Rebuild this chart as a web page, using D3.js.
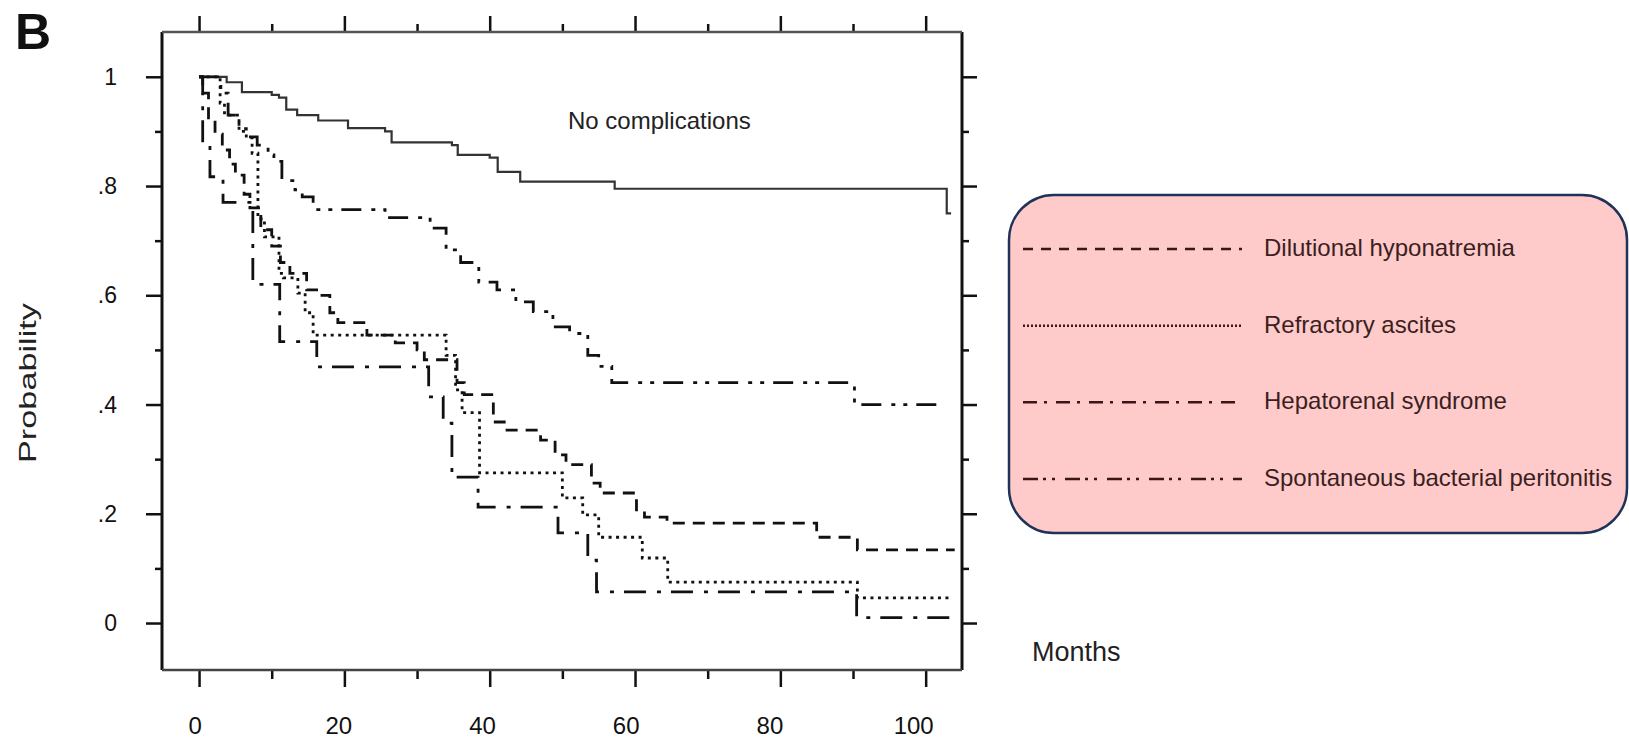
<!DOCTYPE html>
<html>
<head>
<meta charset="utf-8">
<script src="https://cdn.jsdelivr.net/npm/d3@7/dist/d3.min.js"></script>
<style>
    body { margin: 0; background: #fff; }
    svg { display: block; font-family: "Liberation Sans", Arial, sans-serif; }
</style>
</head>
<body>
<script>
/* Kaplan-Meier survival by complication, panel B */

//month ticks on the top and bottom frame
var monthMajor = [0, 20, 40, 60, 80, 100];
var monthMinor = [10, 30, 50, 70, 90];

//probability ticks on the left and right frame
var probMajor = [0, 0.2, 0.4, 0.6, 0.8, 1];
var probMinor = [0.1, 0.3, 0.5, 0.7, 0.9];
var probLabels = ["0", ".2", ".4", ".6", ".8", "1"];

//series names (legend order)
var seriesNames = ["Dilutional hyponatremia", "Refractory ascites", "Hepatorenal syndrome", "Spontaneous bacterial peritonitis"];

//no complications
var ncMonths = [0, 3.8, 5.9, 10, 11, 12, 13.5, 16.4, 20.5, 25.6, 26.5, 34.8, 35.6, 40, 41.1, 44.2, 57.2, 102.9, 103.5];
var ncSurv   = [1, 0.99, 0.972, 0.967, 0.962, 0.94, 0.93, 0.92, 0.906, 0.9, 0.88, 0.875, 0.857, 0.852, 0.826, 0.808, 0.795, 0.75, 0.75];

//dilutional hyponatremia
var dhMonths = [0, 0.5, 1.3, 2.2, 3.2, 4.2, 5, 6.2, 7, 8.5, 10, 11.2, 12.5, 14.8, 16.5, 18, 19.1, 23.1, 27, 30, 31, 35.5, 36.5, 40.5, 42, 47, 49, 50.5, 54, 55.2, 60.2, 61.3, 64.4, 85, 90.6, 104];
var dhSurv   = [1, 0.97, 0.92, 0.895, 0.866, 0.84, 0.82, 0.785, 0.76, 0.72, 0.69, 0.66, 0.64, 0.61, 0.6, 0.568, 0.55, 0.527, 0.513, 0.5, 0.482, 0.44, 0.418, 0.368, 0.353, 0.335, 0.308, 0.29, 0.256, 0.238, 0.207, 0.194, 0.183, 0.157, 0.134, 0.134];

//refractory ascites
var raMonths = [0, 2.9, 3.5, 5.5, 6.5, 7.3, 8.1, 9, 11, 11.6, 13.6, 14.6, 15.7, 34, 35.3, 36.2, 38.6, 50, 52.8, 55, 61, 64.5, 90.6, 103.7];
var raSurv   = [1, 0.952, 0.93, 0.9, 0.888, 0.86, 0.74, 0.707, 0.64, 0.632, 0.604, 0.568, 0.527, 0.49, 0.427, 0.385, 0.275, 0.229, 0.198, 0.157, 0.119, 0.075, 0.046, 0.046];

//hepatorenal syndrome
var hrsMonths = [0, 0.5, 1.5, 3.3, 7.4, 11.1, 16.2, 31.6, 33.6, 34.8, 38.4, 49.4, 53.5, 54.7, 90.5, 103.6];
var hrsSurv   = [1, 0.879, 0.817, 0.77, 0.62, 0.515, 0.469, 0.414, 0.366, 0.267, 0.212, 0.165, 0.115, 0.057, 0.01, 0.01];

//spontaneous bacterial peritonitis
var sbpMonths = [0, 3, 4, 5.5, 6.5, 8, 9.5, 10.3, 11.4, 13.2, 14.2, 15.7, 25.6, 31.8, 34, 36, 38.5, 41, 43.6, 46, 48.7, 51, 53.5, 55, 56.8, 90.2, 102.6];
var sbpSurv   = [1, 0.97, 0.93, 0.905, 0.89, 0.875, 0.857, 0.845, 0.81, 0.793, 0.78, 0.757, 0.742, 0.723, 0.683, 0.66, 0.624, 0.61, 0.588, 0.57, 0.542, 0.53, 0.49, 0.47, 0.44, 0.4, 0.4];

(function(){

    var width = 1629,
        height = 742;

    //plot frame
    var frame = {left: 162, top: 32, width: 800, height: 638};

    var svg = d3.select("body")
        .append("svg")
        .attr("width", width)
        .attr("height", height);

    //scales (frame runs a little past 0 and 100 months)
    var x = d3.scaleLinear()
        .domain([-5.1, 105])
        .range([frame.left, frame.left + frame.width]);

    var y = d3.scaleLinear()
        .domain([-0.086, 1.082])
        .range([frame.top + frame.height, frame.top]);

    //the month labels in the scan sit slightly left of their ticks
    var xLabel = d3.scaleLinear()
        .domain([0, 100])
        .range([x(0) - 4, x(100) - 12]);

    //panel letter
    svg.append("text")
        .attr("x", 15)
        .attr("y", 49)
        .attr("font-size", 50)
        .attr("font-weight", "bold")
        .attr("fill", "#111")
        .text("B");

    //axes: major and minor ticks drawn as separate generators
    function tickAxis(gen, scale, values, size, pos){
        var g = svg.append("g")
            .attr("transform", pos)
            .call(gen(scale).tickValues(values).tickSize(size).tickFormat(""));
        g.select(".domain").remove();
        g.selectAll("line").attr("stroke", "#111").attr("stroke-width", 2.5);
        return g;
    }

    tickAxis(d3.axisBottom, x, monthMajor, 17, "translate(0," + (frame.top + frame.height) + ")");
    tickAxis(d3.axisBottom, x, monthMinor, 9, "translate(0," + (frame.top + frame.height) + ")");
    tickAxis(d3.axisTop, x, monthMajor, 16, "translate(0," + frame.top + ")");
    tickAxis(d3.axisTop, x, monthMinor, 8, "translate(0," + frame.top + ")");
    tickAxis(d3.axisLeft, y, probMajor, 16, "translate(" + frame.left + ",0)");
    tickAxis(d3.axisLeft, y, probMinor, 7, "translate(" + frame.left + ",0)");
    tickAxis(d3.axisRight, y, probMajor, 15, "translate(" + (frame.left + frame.width) + ",0)");
    tickAxis(d3.axisRight, y, probMinor, 7, "translate(" + (frame.left + frame.width) + ",0)");

    //y tick labels
    svg.selectAll(".ylab")
        .data(probMajor)
        .enter()
        .append("text")
        .attr("class", "ylab")
        .attr("x", frame.left - 45)
        .attr("y", function(d){ return y(d) + 8; })
        .attr("text-anchor", "end")
        .attr("font-size", 23)
        .attr("fill", "#111")
        .text(function(d, i){ return probLabels[i]; });

    //x tick labels
    svg.selectAll(".xlab")
        .data(monthMajor)
        .enter()
        .append("text")
        .attr("class", "xlab")
        .attr("x", function(d){ return xLabel(d); })
        .attr("y", 734)
        .attr("text-anchor", "middle")
        .attr("font-size", 24)
        .attr("fill", "#111")
        .text(function(d){ return d; });

    //frame border: solid sides, lighter scanned top and bottom
    var sides = [
        {x1: frame.left, y1: frame.top, x2: frame.left, y2: frame.top + frame.height, c: "#111", w: 3},
        {x1: frame.left + frame.width, y1: frame.top, x2: frame.left + frame.width, y2: frame.top + frame.height, c: "#111", w: 3},
        {x1: frame.left, y1: frame.top, x2: frame.left + frame.width, y2: frame.top, c: "#555", w: 2.5},
        {x1: frame.left, y1: frame.top + frame.height, x2: frame.left + frame.width, y2: frame.top + frame.height, c: "#444", w: 2.5}
    ];

    svg.selectAll(".side")
        .data(sides)
        .enter()
        .append("line")
        .attr("class", "side")
        .attr("x1", function(d){ return d.x1; })
        .attr("y1", function(d){ return d.y1; })
        .attr("x2", function(d){ return d.x2; })
        .attr("y2", function(d){ return d.y2; })
        .attr("stroke", function(d){ return d.c; })
        .attr("stroke-width", function(d){ return d.w; });

    //step curves
    var step = d3.line()
        .x(function(d){ return x(d[0]); })
        .y(function(d){ return y(d[1]); })
        .curve(d3.curveStepAfter);

    var curves = [
        {m: ncMonths,  s: ncSurv,  dash: null,              w: 2.2, c: "#333"},
        {m: dhMonths,  s: dhSurv,  dash: "12,8",            w: 2.8, c: "#111"},
        {m: raMonths,  s: raSurv,  dash: "3,4.5",           w: 2.8, c: "#111"},
        {m: hrsMonths, s: hrsSurv, dash: "22,11,4,10",      w: 2.8, c: "#111"},
        {m: sbpMonths, s: sbpSurv, dash: "20,10,4,8,4,9",   w: 2.8, c: "#111"}
    ];

    svg.selectAll(".km")
        .data(curves)
        .enter()
        .append("path")
        .attr("class", "km")
        .attr("d", function(c){ return step(d3.zip(c.m, c.s)); })
        .attr("fill", "none")
        .attr("stroke", function(c){ return c.c; })
        .attr("stroke-width", function(c){ return c.w; })
        .attr("stroke-dasharray", function(c){ return c.dash; });

    //curve annotation
    svg.append("text")
        .attr("x", 568)
        .attr("y", 129)
        .attr("font-size", 24)
        .attr("fill", "#222")
        .text("No complications");

    //axis titles
    svg.append("text")
        .attr("x", 1032)
        .attr("y", 661)
        .attr("font-size", 27)
        .attr("fill", "#222")
        .text("Months");

    svg.append("text")
        .attr("transform", "translate(36,383) rotate(-90)")
        .attr("text-anchor", "middle")
        .attr("font-size", 24)
        .attr("textLength", 160)
        .attr("lengthAdjust", "spacingAndGlyphs")
        .attr("fill", "#222")
        .text("Probability");

    //legend box
    var legend = svg.append("g")
        .attr("transform", "translate(1009,195)");

    legend.append("rect")
        .attr("width", 618)
        .attr("height", 338)
        .attr("rx", 45)
        .attr("ry", 45)
        .attr("fill", "#ffcaca")
        .attr("stroke", "#1f3358")
        .attr("stroke-width", 2.5);

    var legendDash = ["10,8", "2,2", "14,7,3,9", "15,5,3,6,3,10"];
    var row = d3.scaleLinear().domain([0, 3]).range([52, 282]);

    legend.selectAll(".legline")
        .data(seriesNames)
        .enter()
        .append("line")
        .attr("class", "legline")
        .attr("x1", 14)
        .attr("x2", 233)
        .attr("y1", function(d, i){ return row(i) + 2; })
        .attr("y2", function(d, i){ return row(i) + 2; })
        .attr("stroke", "#3a1616")
        .attr("stroke-width", 2.5)
        .attr("stroke-dasharray", function(d, i){ return legendDash[i]; });

    legend.selectAll(".legtext")
        .data(seriesNames)
        .enter()
        .append("text")
        .attr("class", "legtext")
        .attr("x", 255)
        .attr("y", function(d, i){ return row(i) + 9; })
        .attr("font-size", 24)
        .attr("fill", "#3b1f1f")
        .text(function(d){ return d; });

})();
</script>
</body>
</html>
